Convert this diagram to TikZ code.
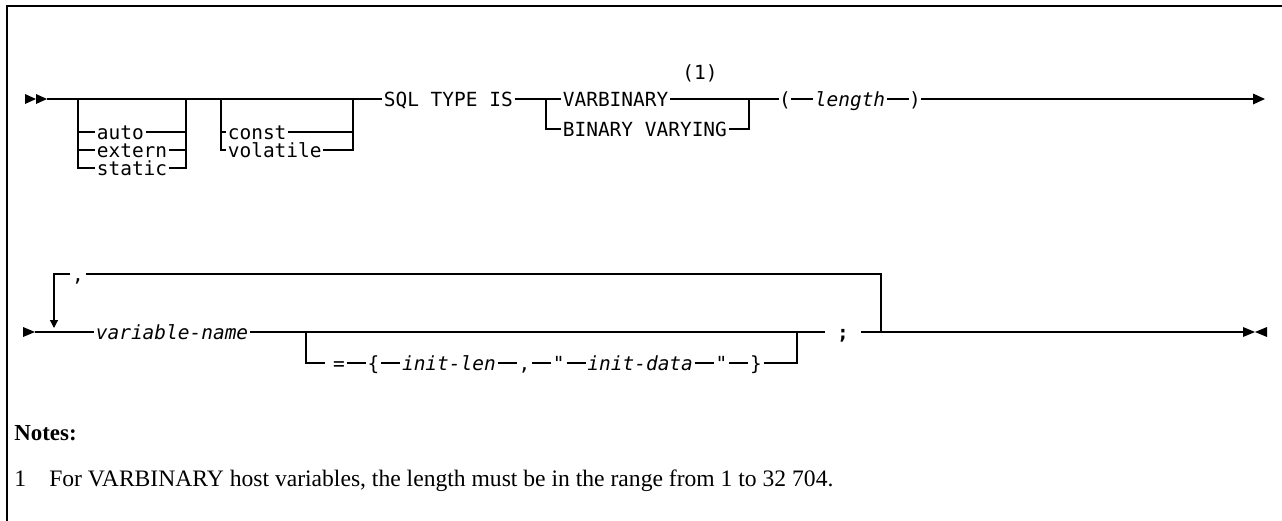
\documentclass[tikz,border=0pt]{standalone}
\usepackage{fontspec}
\setmainfont{Liberation Serif}
\setmonofont{DejaVu Sans Mono}
\usetikzlibrary{arrows.meta,positioning}

\tikzset{
  rail/.style={line width=0.9pt},
  frame/.style={line width=1.2pt},
  kw/.style={font=\fontsize{14.6}{16}\selectfont\ttfamily, inner xsep=1.2pt, inner ysep=0pt,
             text height=10.6pt, text depth=0pt, anchor=west},
  var/.style={kw, font=\fontsize{14.6}{16}\selectfont\ttfamily\itshape},
  sym/.style={kw, anchor=center},
  note/.style={font=\fontsize{17.7}{20}\selectfont, inner sep=0pt, anchor=base west},
  endtip/.style={-{Triangle[length=9pt,width=8pt]}},
  looptip/.style={-{Triangle[length=6pt,width=6pt]}},
}

\begin{document}
\begin{tikzpicture}[x=0.75pt,y=-0.75pt]
  \useasboundingbox (0,0) rectangle (1282,521);
  \draw[frame] (1282,6) -- (7,6) -- (7,521);

  % first line
  \coordinate (r1s) at (47,99);
  \coordinate (g1l) at (78,99);
  \coordinate (g1r) at (186,99);
  \coordinate (g2l) at (221,99);
  \coordinate (g2r) at (353,99);
  \coordinate (g3l) at (546,99);
  \coordinate (g3r) at (749,99);
  \coordinate (r1e) at (1265,99);

  \node[kw] (auto) at (95,132) {auto};
  \node[kw] (extern) at (95,150) {extern};
  \node[kw] (static) at (95,168) {static};
  \node[kw] (const) at (226,132) {const};
  \node[kw] (volatile) at (226,150) {volatile};
  \node[kw] (sqltype) at (382,99) {SQL TYPE IS};
  \node[kw] (varbin) at (561,99) {VARBINARY};
  \node[kw] (binvar) at (561,129) {BINARY VARYING};
  \node[sym] (fnref) at (700,72) {(1)};
  \node[sym, inner xsep=0pt] (lpar) at (785,99) {(};
  \node[var] (len) at (813,99) {length};
  \node[sym, inner xsep=0pt] (rpar) at (915,99) {)};

  \fill (r1s) ++(-22,-5) -- ++(11,5) -- ++(-11,5) -- cycle;
  \fill (r1s) ++(-11,-5) -- ++(11,5) -- ++(-11,5) -- cycle;
  \draw[rail] (r1s) -- (sqltype.west);
  \draw[rail] (g1l) |- (static.west);
  \draw[rail] (g1l) |- (extern.west);
  \draw[rail] (g1l) |- (auto.west);
  \draw[rail] (auto.east) -| (g1r);
  \draw[rail] (extern.east) -| (g1r);
  \draw[rail] (static.east) -| (g1r);
  \draw[rail] (g2l) |- (volatile.west);
  \draw[rail] (g2l) |- (const.west);
  \draw[rail] (const.east) -| (g2r);
  \draw[rail] (volatile.east) -| (g2r);
  \draw[rail] (sqltype.east) -- (varbin.west);
  \draw[rail] (g3l) |- (binvar.west);
  \draw[rail] (varbin.east) -- (lpar.west);
  \draw[rail] (binvar.east) -| (g3r);
  \draw[rail] (lpar.east) -- (len.west);
  \draw[rail] (len.east) -- (rpar.west);
  \draw[rail,endtip] (rpar.east) -- (r1e);

  % second line
  \coordinate (r2s) at (35,332);
  \coordinate (lptip) at (54,328);
  \coordinate (lpr) at (881,332);
  \coordinate (optl) at (306,332);
  \coordinate (optr) at (797,332);
  \coordinate (eqin) at (325,363);
  \coordinate (r2e) at (1243,332);

  \node[var] (varname) at (94,332) {variable-name};
  \node[sym] (sep) at (78,274) {,};
  \node[sym, inner xsep=0pt] (semi) at (843,332) {\phantom{;}\textbf{;}\phantom{;}};
  \node[sym] (eq) at (339,363) {=};
  \begin{scope}[node distance=14.25pt]
    \node[sym, right=of eq] (lbrace) {\{};
    \node[var, right=of lbrace] (initlen) {init-len};
    \node[sym, right=of initlen] (comma) {,};
    \node[sym, right=of comma] (qa) {"};
    \node[var, right=of qa] (initdata) {init-data};
    \node[sym, right=of initdata] (qb) {"};
    \node[sym, right=of qb] (rbrace) {\}};
  \end{scope}

  \fill (r2s) ++(-12,-5) -- ++(12,5) -- ++(-12,5) -- cycle;
  \draw[rail] (r2s) -- (varname.west);
  \draw[rail,looptip] (sep.west) -| (lptip);
  \draw[rail] (sep.east) -| (lpr);
  \draw[rail] (varname.east) -- (semi.west);
  \draw[rail] (optl) |- (eqin);
  \draw[rail] (eq.east) -- (lbrace.west);
  \draw[rail] (lbrace.east) -- (initlen.west);
  \draw[rail] (initlen.east) -- (comma.west);
  \draw[rail] (comma.east) -- (qa.west);
  \draw[rail] (qa.east) -- (initdata.west);
  \draw[rail] (initdata.east) -- (qb.west);
  \draw[rail] (qb.east) -- (rbrace.west);
  \draw[rail] (rbrace.east) -| (optr);
  \draw[rail] (semi.east) -- (r2e);
  \fill (r2e) ++(0,-5) -- ++(12,5) -- ++(-12,5) -- cycle;
  \fill (r2e) ++(24,-5) -- ++(-12,5) -- ++(12,5) -- cycle;

  % notes
  \node[note, font=\fontsize{17.2}{20}\selectfont\bfseries] (notes) at (14,440) {Notes:};
  \node[note] (fnnum) at (14,486) {1};
  \node[note] (fntext) at (49,486) {For VARBINARY host variables, the length must be in the range from 1 to 32 704.};
\end{tikzpicture}
\end{document}
